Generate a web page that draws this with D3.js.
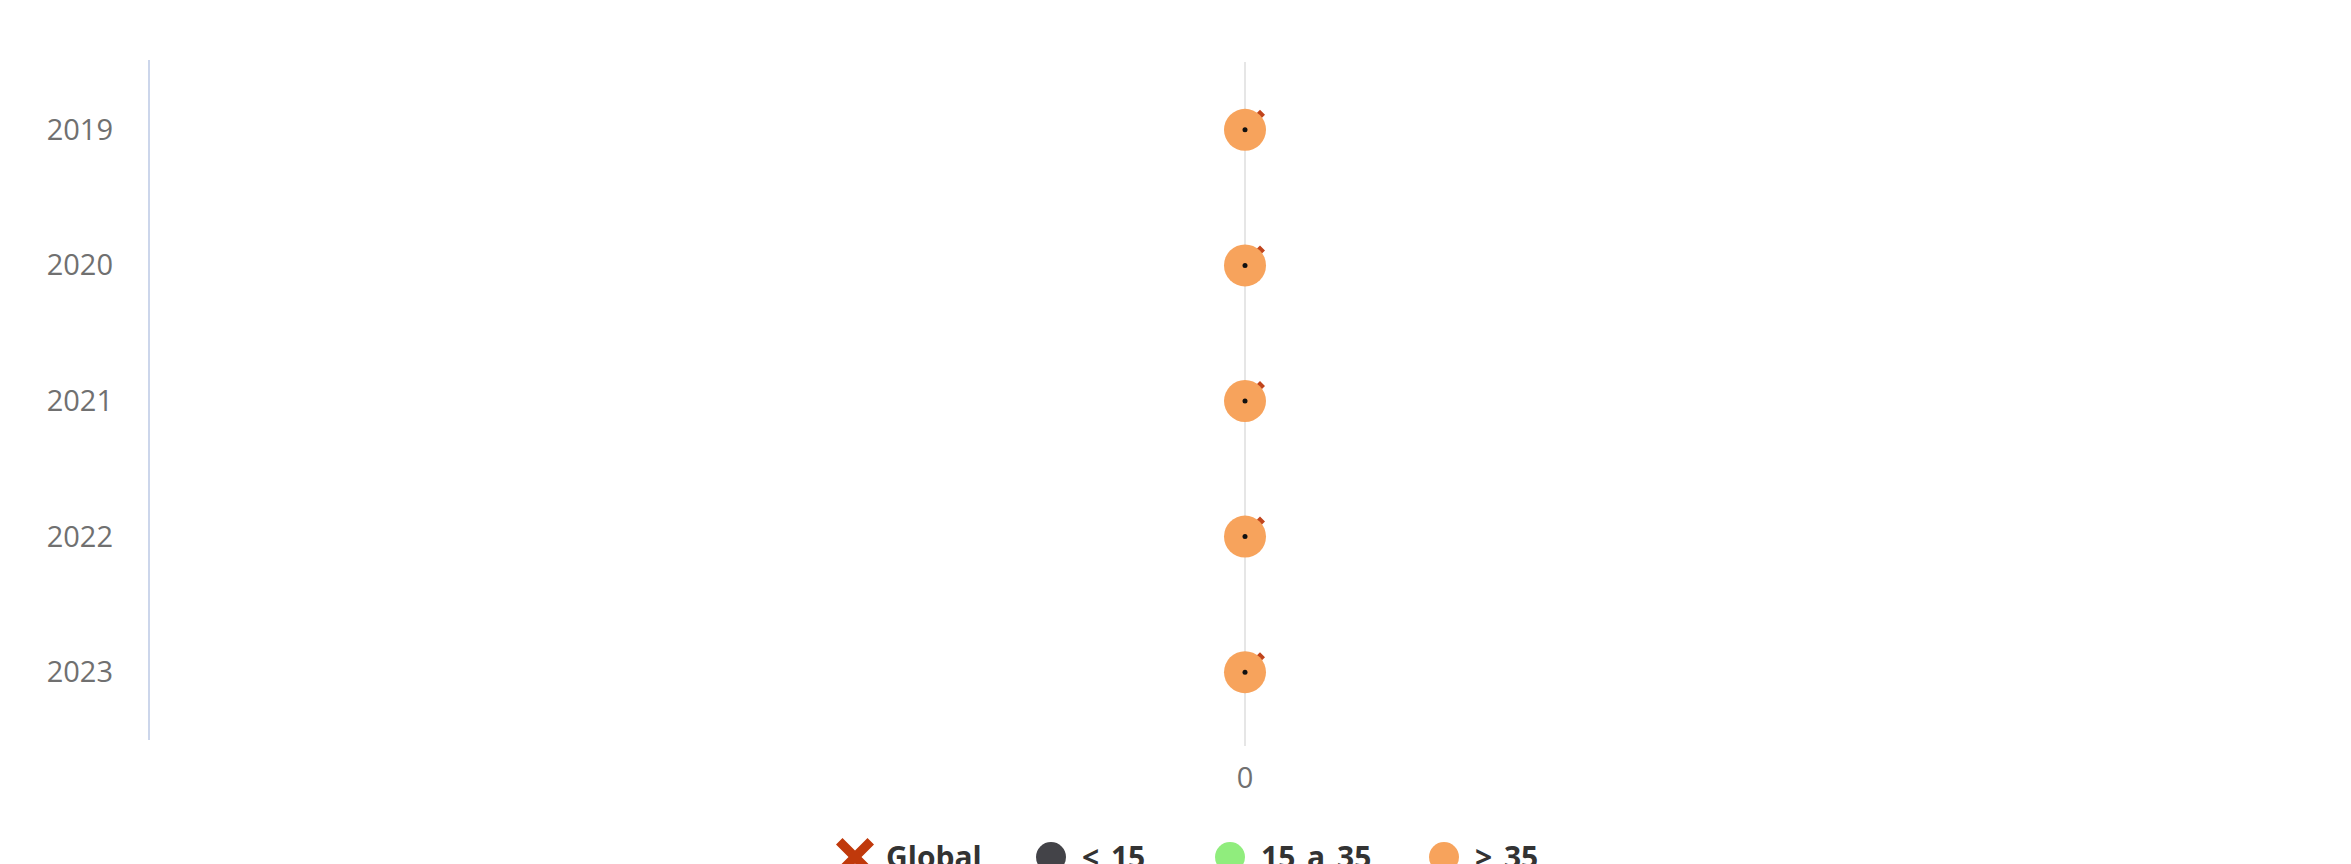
<!DOCTYPE html>
<meta charset="utf-8">
<style>
body { margin: 0; background: #fff; }
text { font-family: "Open Sans", sans-serif; }
.axis-label { font-size: 29px; fill: #707070; }
.legend text { font-size: 30px; font-weight: bold; fill: #333; word-spacing: 4px; }
</style>
<svg width="2351" height="864"></svg>
<script src="https://cdn.jsdelivr.net/npm/d3@7"></script>
<script>

var years = ["2019", "2020", "2021", "2022", "2023"];
var globalValues = [0, 0, 0, 0, 0];
var under15Values = [0, 0, 0, 0, 0];
var over35Values = [0, 0, 0, 0, 0];
var xTicks = [0];
var legendItems = [
  {name: "Global", symbol: "cross", color: "#c0390b"},
  {name: "< 15", symbol: "circle", color: "#434348"},
  {name: "15 a 35", symbol: "circle", color: "#90ed7d"},
  {name: "> 35", symbol: "circle", color: "#f7a35c"}
];

var svg = d3.select("svg");

var plot = {left: 149, right: 2341, top: 62, bottom: 740};

var x = d3.scaleLinear()
    .domain([-1, 1])
    .range([plot.left, plot.right]);

var y = d3.scaleBand()
    .domain(years)
    .range([plot.top, plot.bottom]);

var yc = function(d) { return y(d) + y.bandwidth() / 2; };

// grid line at 0
svg.append("g")
  .selectAll("line")
  .data(xTicks)
  .enter().append("line")
    .attr("x1", function(d) { return x(d); })
    .attr("x2", function(d) { return x(d); })
    .attr("y1", plot.top)
    .attr("y2", plot.bottom + 6)
    .attr("stroke", "#e6e6e6")
    .attr("stroke-width", 2);

// y axis line
svg.append("line")
    .attr("x1", plot.left).attr("x2", plot.left)
    .attr("y1", plot.top - 2).attr("y2", plot.bottom)
    .attr("stroke", "#ccd6eb")
    .attr("stroke-width", 2);

svg.append("g")
  .selectAll("text")
  .data(years)
  .enter().append("text")
    .attr("class", "axis-label")
    .attr("x", plot.left - 36)
    .attr("y", function(d) { return yc(d) + 10; })
    .attr("text-anchor", "end")
    .text(function(d) { return d; });

svg.append("g")
  .selectAll("text")
  .data(xTicks)
  .enter().append("text")
    .attr("class", "axis-label")
    .attr("x", function(d) { return x(d); })
    .attr("y", 788)
    .attr("text-anchor", "middle")
    .text(function(d) { return d; });

// cross symbol path, arms reach +-a, thickness w
function crossPath(a, w) {
  var h = w / 2;
  return "M" + (-a) + "," + (-a + h) + "L" + (-a + h) + "," + (-a) + "L0," + (-h) +
    "L" + (a - h) + "," + (-a) + "L" + a + "," + (-a + h) + "L" + h + ",0" +
    "L" + a + "," + (a - h) + "L" + (a - h) + "," + a + "L0," + h +
    "L" + (-a + h) + "," + a + "L" + (-a) + "," + (a - h) + "L" + (-h) + ",0Z";
}

// global markers (sit behind the bubbles)
svg.append("g")
  .selectAll("path")
  .data(years)
  .enter().append("path")
    .attr("d", crossPath(13, 10))
    .attr("transform", function(d, i) {
      return "translate(" + (x(globalValues[i]) + 7) + "," + (yc(d) - 7) + ")";
    })
    .attr("fill", "#c0441c");

svg.append("g")
  .selectAll("circle")
  .data(years)
  .enter().append("circle")
    .attr("cx", function(d, i) { return x(over35Values[i]); })
    .attr("cy", function(d) { return yc(d); })
    .attr("r", 21)
    .attr("fill", "#f7a35c");

svg.append("g")
  .selectAll("circle")
  .data(years)
  .enter().append("circle")
    .attr("cx", function(d, i) { return x(under15Values[i]); })
    .attr("cy", function(d) { return yc(d); })
    .attr("r", 2.5)
    .attr("fill", "#111");

// legend
var legendX = [855, 1051, 1230, 1444];
var legend = svg.append("g").attr("class", "legend");

var item = legend.selectAll("g")
  .data(legendItems)
  .enter().append("g")
    .attr("transform", function(d, i) { return "translate(" + legendX[i] + ",857)"; });

item.filter(function(d) { return d.symbol === "circle"; })
  .append("circle")
    .attr("r", 15)
    .attr("fill", function(d) { return d.color; });

item.filter(function(d) { return d.symbol === "cross"; })
  .append("path")
    .attr("d", crossPath(19, 13))
    .attr("fill", function(d) { return d.color; });

item.append("text")
    .attr("x", 31)
    .attr("y", 11)
    .text(function(d) { return d.name; });

</script>
